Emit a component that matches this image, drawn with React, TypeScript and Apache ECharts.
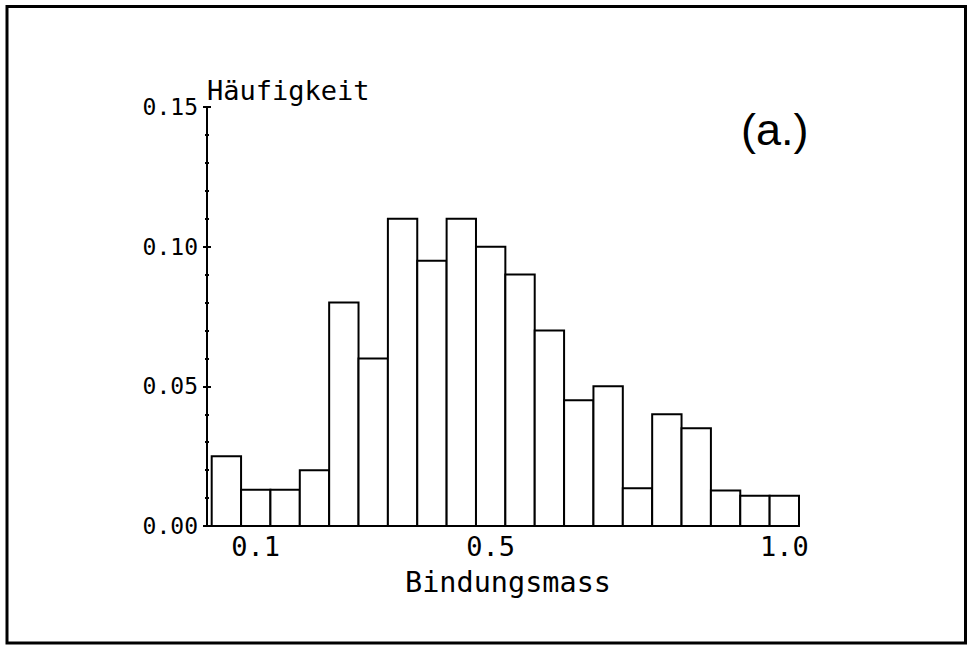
import React, { useEffect, useRef } from "react";
import * as echarts from "echarts";

// Histogram data: bin centres (Bindungsmass) and relative frequencies (Häufigkeit)
const binCenters = [0.05, 0.1, 0.15, 0.2, 0.25, 0.3, 0.35, 0.4, 0.45, 0.5, 0.55, 0.6, 0.65, 0.7, 0.75, 0.8, 0.85, 0.9, 0.95, 1.0];
const frequencies = [0.025, 0.013, 0.013, 0.02, 0.08, 0.06, 0.11, 0.095, 0.11, 0.1, 0.09, 0.07, 0.045, 0.05, 0.0135, 0.04, 0.035, 0.0127, 0.0108, 0.0108];
const binWidth = 0.05;
const xTickValues = [0.1, 0.5, 1.0];
const yMin = 0;
const yMax = 0.15;
const yInterval = 0.05;
const xTitle = "Bindungsmass";
const yTitle = "Häufigkeit";
const panelLabel = "(a.)";

const MONO = "DejaVu Sans Mono";

export default function App() {
  const ref = useRef<HTMLDivElement>(null);

  useEffect(() => {
    if (!ref.current) return;
    const chart = echarts.init(ref.current, undefined, { renderer: "svg" });
    const data = binCenters.map((c, i) => [c, frequencies[i]]);

    const yAxisBase = {
      type: "value",
      min: yMin,
      max: yMax,
      interval: yInterval,
      position: "left",
      splitLine: { show: false },
    };

    chart.setOption({
      animation: false,
      backgroundColor: "#ffffff",
      grid: { left: 207, right: 171, top: 107, bottom: 120 },
      xAxis: {
        type: "value",
        min: 0.017,
        max: 1.025,
        axisLine: { show: true, onZero: false, lineStyle: { color: "#000", width: 2 } },
        axisTick: { show: false },
        splitLine: { show: false },
        axisLabel: {
          customValues: xTickValues,
          formatter: (v: number) => v.toFixed(1),
          fontFamily: MONO,
          fontSize: 27,
          color: "#000",
          margin: 7,
        },
      },
      yAxis: [
        {
          ...yAxisBase,
          axisLine: { show: true, lineStyle: { color: "#000", width: 2 } },
          axisTick: { show: true, inside: false, length: 4, lineStyle: { color: "#000", width: 2 } },
          minorTick: { show: true, splitNumber: 5, length: 2, lineStyle: { color: "#000", width: 2 } },
          minorSplitLine: { show: false },
          axisLabel: {
            formatter: (v: number) => v.toFixed(2),
            fontFamily: MONO,
            fontSize: 23,
            color: "#000",
            margin: 9,
          },
        },
        {
          ...yAxisBase,
          axisLine: { show: false },
          axisTick: { show: true, inside: true, length: 4, lineStyle: { color: "#000", width: 2 } },
          minorTick: { show: true, splitNumber: 5, length: 2, lineStyle: { color: "#000", width: 2 } },
          axisLabel: { show: false },
        },
      ],
      series: [
        {
          type: "custom",
          xAxisIndex: 0,
          yAxisIndex: 0,
          clip: false,
          data,
          renderItem: (params: any, api: any) => {
            const c = api.value(0);
            const v = api.value(1);
            const p0 = api.coord([c - binWidth / 2, v]);
            const p1 = api.coord([c + binWidth / 2, 0]);
            return {
              type: "rect",
              shape: { x: p0[0], y: p0[1], width: p1[0] - p0[0], height: p1[1] - p0[1] },
              style: { fill: "#fff", stroke: "#000", lineWidth: 2 },
            };
          },
        },
      ],
      graphic: [
        {
          type: "rect",
          shape: { x: 7, y: 6.5, width: 958.5, height: 636.5 },
          style: { fill: "none", stroke: "#000", lineWidth: 3 },
          silent: true,
        },
        {
          type: "text",
          x: 207,
          y: 90,
          style: {
            text: yTitle,
            font: `27px '${MONO}'`,
            fill: "#000",
            textAlign: "left",
            textVerticalAlign: "middle",
          },
        },
        {
          type: "text",
          x: 508,
          y: 582,
          style: {
            text: xTitle,
            font: `28.5px '${MONO}'`,
            fill: "#000",
            textAlign: "center",
            textVerticalAlign: "middle",
          },
        },
        {
          type: "text",
          x: 741,
          y: 129,
          style: {
            text: panelLabel,
            font: `300 45px 'Liberation Sans'`,
            fill: "#000",
            textAlign: "left",
            textVerticalAlign: "middle",
          },
        },
      ],
    });
    return () => chart.dispose();
  }, []);

  return (
    <div
      ref={ref}
      style={{ position: "fixed", left: 0, top: 0, width: 970, height: 646, background: "#fff" }}
    />
  );
}
